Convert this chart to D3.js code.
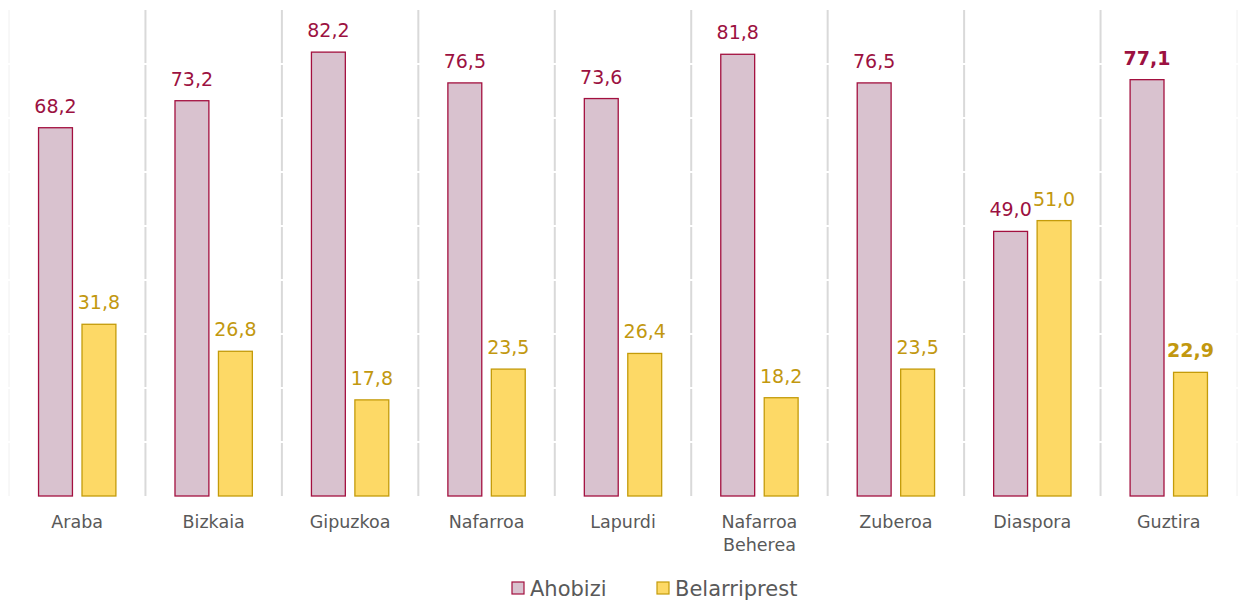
<!DOCTYPE html>
<html>
<head>
<meta charset="utf-8">
<script src="https://cdn.jsdelivr.net/npm/d3@7"></script>
<style>
  body { margin: 0; background: #fff; }
  text { font-family: "DejaVu Sans", sans-serif; }
</style>
</head>
<body>
<div id="chart"></div>
<script>
// chart data
var categories = ["Araba", "Bizkaia", "Gipuzkoa", "Nafarroa", "Lapurdi", "Nafarroa\nBeherea", "Zuberoa", "Diaspora", "Guztira"];
var seriesNames = ["Ahobizi", "Belarriprest"];
var ahobizi = [68.2, 73.2, 82.2, 76.5, 73.6, 81.8, 76.5, 49.0, 77.1];
var belarriprest = [31.8, 26.8, 17.8, 23.5, 26.4, 18.2, 23.5, 51.0, 22.9];
var yTicks = [0, 10, 20, 30, 40, 50, 60, 70, 80, 90];

var fills = ["#d9c2cf", "#fdd966"],
    strokes = ["#a3103f", "#c49b0a"],
    labelColors = ["#9c1141", "#c2980f"];

var width = 1243, height = 602;
var plot = {left: 9, right: 1237, top: 10, bottom: 496};

var svg = d3.select("#chart").append("svg")
    .attr("width", width)
    .attr("height", height);

var x0 = d3.scaleBand()
    .domain(categories)
    .range([plot.left, plot.right])
    .padding(0);

var x1 = d3.scaleBand()
    .domain(seriesNames)
    .range([0, x0.bandwidth()])
    .paddingInner(0.22)
    .paddingOuter(0.68);

var y = d3.scaleLinear()
    .domain([0, 90])
    .range([plot.bottom, plot.top]);

// vertical separators between categories
var seps = categories.map(function(c) { return x0(c); }).concat([plot.right]);
svg.selectAll("line.sep")
    .data(seps)
    .enter()
    .append("line")
    .attr("class", "sep")
    .attr("x1", function(d) { return d; })
    .attr("x2", function(d) { return d; })
    .attr("y1", y(90))
    .attr("y2", y(0))
    .attr("stroke", function(d, i) { return (i == 0 || i == seps.length - 1) ? "#f0f0f0" : "#d9d9d9"; })
    .attr("stroke-width", function(d, i) { return (i == 0 || i == seps.length - 1) ? 1 : 2; });

// white horizontal gridlines breaking the separators
svg.selectAll("line.grid")
    .data(yTicks.slice(1, -1))
    .enter()
    .append("line")
    .attr("class", "grid")
    .attr("x1", plot.left - 2)
    .attr("x2", plot.right + 2)
    .attr("y1", function(d) { return y(d); })
    .attr("y2", function(d) { return y(d); })
    .attr("stroke", "#fff")
    .attr("stroke-width", 2);

var data = [];
categories.forEach(function(c, i) {
    data.push({cat: c, s: 0, v: ahobizi[i], last: i == categories.length - 1});
    data.push({cat: c, s: 1, v: belarriprest[i], last: i == categories.length - 1});
});

svg.selectAll("rect.bar")
    .data(data)
    .enter()
    .append("rect")
    .attr("class", "bar")
    .attr("x", function(d) { return x0(d.cat) + x1(seriesNames[d.s]); })
    .attr("y", function(d) { return y(d.v); })
    .attr("width", x1.bandwidth())
    .attr("height", function(d) { return y(0) - y(d.v); })
    .attr("fill", function(d) { return fills[d.s]; })
    .attr("stroke", function(d) { return strokes[d.s]; })
    .attr("stroke-width", 1.3);

svg.selectAll("text.val")
    .data(data)
    .enter()
    .append("text")
    .attr("class", "val")
    .attr("x", function(d) { return x0(d.cat) + x1(seriesNames[d.s]) + x1.bandwidth() / 2; })
    .attr("y", function(d) { return y(d.v) - 15; })
    .attr("text-anchor", "middle")
    .style("font-size", "19px")
    .style("font-weight", function(d) { return d.last ? "bold" : "normal"; })
    .attr("fill", function(d) { return labelColors[d.s]; })
    .text(function(d) { return d.v.toFixed(1).replace(".", ","); });

// category labels
var catLabels = svg.selectAll("text.cat")
    .data(categories)
    .enter()
    .append("text")
    .attr("class", "cat")
    .attr("x", function(d) { return x0(d) + x0.bandwidth() / 2; })
    .attr("y", 528)
    .attr("text-anchor", "middle")
    .style("font-size", "17.5px")
    .attr("fill", "#595959");

catLabels.selectAll("tspan")
    .data(function(d) { return d.split("\n"); })
    .enter()
    .append("tspan")
    .attr("x", function() { var p = this.parentNode; return d3.select(p).attr("x"); })
    .attr("dy", function(d, i) { return i == 0 ? 0 : 23; })
    .text(function(d) { return d; });

// legend
var legendX = [512, 657];
var legend = svg.selectAll("g.legend")
    .data(seriesNames)
    .enter()
    .append("g")
    .attr("class", "legend")
    .attr("transform", function(d, i) { return "translate(" + legendX[i] + ",582)"; });

legend.append("rect")
    .attr("width", 12)
    .attr("height", 12)
    .attr("fill", function(d, i) { return fills[i]; })
    .attr("stroke", function(d, i) { return strokes[i]; })
    .attr("stroke-width", 1.2);

legend.append("text")
    .attr("x", 18)
    .attr("y", 14)
    .style("font-size", "21px")
    .attr("fill", "#595959")
    .text(function(d) { return d; });
</script>
</body>
</html>
